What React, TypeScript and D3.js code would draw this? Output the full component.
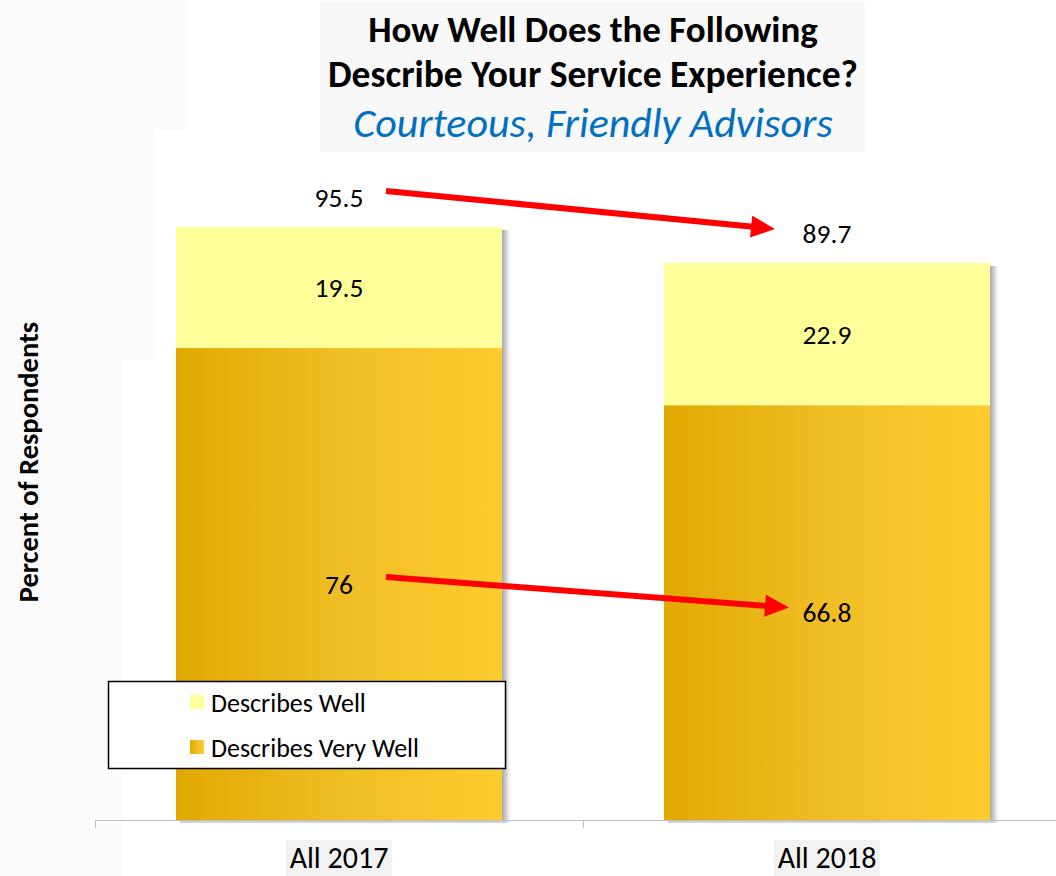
import React from "react";
import * as d3 from "d3";

const categories = ["All 2017", "All 2018"];
const veryWell = [76, 66.8];
const well = [19.5, 22.9];
const totals = [95.5, 89.7];
const seriesNames = ["Describes Well", "Describes Very Well"];

const W = 1056;
const H = 876;
const FONT = "Carlito, Calibri, Lato, 'Open Sans', sans-serif";

export default function App() {
  const y = d3.scaleLinear().domain([0, 100]).range([820, 199]);
  const x = d3.scaleBand<string>().domain(categories).range([95, 1071]);
  const barW = x.bandwidth() * 0.668;
  const cx = (c: string) => (x(c) ?? 0) + x.bandwidth() / 2;

  const totalLabelY = (i: number) => y(totals[i]) - 29;
  const wellLabelY = (i: number) => (y(totals[i]) + y(veryWell[i])) / 2;
  const veryLabelY = (i: number) => (y(veryWell[i]) + y(0)) / 2;

  const arrows = [
    {
      x1: cx(categories[0]) + 47,
      y1: totalLabelY(0) - 7,
      x2: cx(categories[1]) - 52,
      y2: totalLabelY(1) - 5,
    },
    {
      x1: cx(categories[0]) + 47,
      y1: veryLabelY(0) - 7,
      x2: cx(categories[1]) - 38,
      y2: veryLabelY(1) - 5,
    },
  ];

  return (
    <svg width={W} height={H} style={{ display: "block", position: "absolute", left: 0, top: 0 }} fontFamily={FONT}>
      <defs>
        <linearGradient id="gold" x1="0" x2="1" y1="0" y2="0">
          <stop offset="0" stopColor="#E1A900" />
          <stop offset="0.5" stopColor="#EFBE25" />
          <stop offset="1" stopColor="#FFCC2E" />
        </linearGradient>
        <linearGradient id="shade" x1="0" x2="1" y1="0" y2="0">
          <stop offset="0" stopColor="#a8a8a8" />
          <stop offset="0.5" stopColor="#d8d8d8" />
          <stop offset="1" stopColor="#ffffff" stopOpacity="0" />
        </linearGradient>
      </defs>
      <rect x={0} y={0} width={W} height={H} fill="#ffffff" />
      {/* faint backdrop panels */}
      <rect x={0} y={0} width={188} height={130} fill="#fbfbfb" />
      <rect x={0} y={130} width={155} height={230} fill="#fbfbfb" />
      <rect x={0} y={358} width={122} height={518} fill="#fbfbfb" />
      <rect x={320} y={2} width={545} height={150} fill="#f8f8f8" />

      {/* title */}
      <g textAnchor="middle" fill="#000">
        <text x={593} y={42} fontSize={37} fontWeight={700}>How Well Does the Following</text>
        <text x={593} y={87} fontSize={37.5} fontWeight={700}>Describe Your Service Experience?</text>
        <text x={593} y={137} fontSize={42} fontStyle="italic" fill="#0070C0">Courteous, Friendly Advisors</text>
      </g>

      {/* y axis title */}
      <text
        transform={`translate(38,462) rotate(-90)`}
        textAnchor="middle"
        fontSize={28.5}
        fontWeight={700}
      >
        Percent of Respondents
      </text>

      {/* bars */}
      {categories.map((c, i) => {
        const bx = cx(c) - barW / 2;
        return (
          <g key={c}>
            <rect x={bx + barW} y={y(totals[i]) + 3} width={10} height={y(0) - y(totals[i])} fill="url(#shade)" />
            <rect x={bx + 4} y={y(0)} width={barW} height={3} fill="#d0d0d0" />
            <rect x={bx} y={y(veryWell[i])} width={barW} height={y(0) - y(veryWell[i])} fill="url(#gold)" />
            <rect x={bx} y={y(totals[i])} width={barW} height={y(veryWell[i]) - y(totals[i])} fill="#FFFF99" />
          </g>
        );
      })}

      {/* x axis */}
      <line x1={95} x2={W} y1={820.5} y2={820.5} stroke="#bfbfbf" strokeWidth={1.2} />
      {categories.map((c) => (
        <line key={c} x1={(x(c) ?? 0) + 0.5} x2={(x(c) ?? 0) + 0.5} y1={820} y2={828} stroke="#bfbfbf" />
      ))}
      {categories.map((c) => (
        <g key={c}>
          <rect x={cx(c) - 53} y={840} width={106} height={36} fill="#f2f2f2" />
          <text x={cx(c)} y={868} textAnchor="middle" fontSize={30} fill="#000">
            {c}
          </text>
        </g>
      ))}

      {/* value labels */}
      <g textAnchor="middle" fontSize={27.5} fill="#000" dominantBaseline="central">
        {categories.map((c, i) => (
          <g key={c}>
            <text x={cx(c)} y={totalLabelY(i)}>{totals[i]}</text>
            <text x={cx(c)} y={wellLabelY(i)}>{well[i]}</text>
            <text x={cx(c)} y={veryLabelY(i)}>{veryWell[i]}</text>
          </g>
        ))}
      </g>

      {/* trend arrows */}
      {arrows.map((a, k) => {
        const ang = Math.atan2(a.y2 - a.y1, a.x2 - a.x1);
        const headL = 24;
        const headW = 11;
        const bx = a.x2 - headL * Math.cos(ang);
        const by = a.y2 - headL * Math.sin(ang);
        const px = -Math.sin(ang);
        const py = Math.cos(ang);
        return (
          <g key={k}>
            <line x1={a.x1} y1={a.y1} x2={bx + 2 * Math.cos(ang)} y2={by + 2 * Math.sin(ang)} stroke="#FF0000" strokeWidth={6} />
            <path
              d={`M${a.x2},${a.y2}L${bx + px * headW},${by + py * headW}L${bx - px * headW},${by - py * headW}Z`}
              fill="#FF0000"
            />
          </g>
        );
      })}

      {/* legend */}
      <rect x={108.5} y={681.5} width={397} height={87} fill="#ffffff" stroke="#000" strokeWidth={1.5} />
      {seriesNames.map((n, i) => (
        <g key={n}>
          <rect x={190} y={695 + i * 45} width={14} height={14} fill={i === 0 ? "#FFFF99" : "url(#gold)"} />
          <text x={211} y={712 + i * 45} fontSize={26} fill="#000">
            {n}
          </text>
        </g>
      ))}
    </svg>
  );
}
